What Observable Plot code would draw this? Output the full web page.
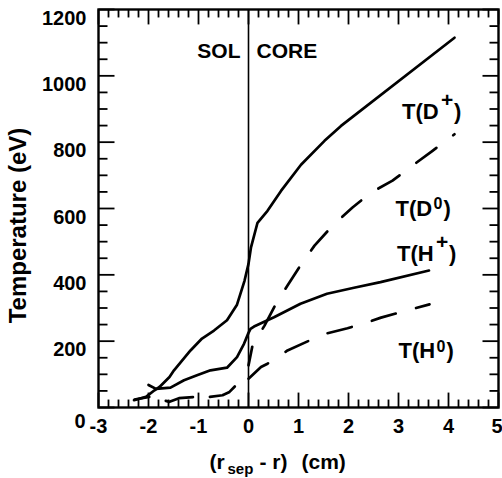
<!DOCTYPE html>
<html>
<head>
<meta charset="utf-8">
<script src="https://cdn.jsdelivr.net/npm/d3@7"></script>
<script src="https://cdn.jsdelivr.net/npm/@observablehq/plot@0.6"></script>
<style>
  html, body { margin: 0; padding: 0; background: white; }
</style>
</head>
<body>
<div id="chart"></div>
<script>
// ---- data ----
const dIonX = [-2.29, -2.05, -1.88, -1.78, -1.58, -1.49, -1.16, -0.93, -0.69, -0.43, -0.23, -0.08, 0, 0.05, 0.18, 0.38, 0.65, 1.05, 1.52, 1.85, 4.12];
const dIonT = [22, 32, 52, 62, 92, 112, 172, 208, 232, 263, 310, 382, 433, 483, 557, 593, 653, 732, 804, 849, 1115];

const hIonX = [-2.0, -1.85, -1.56, -1.29, -1.03, -0.76, -0.43, -0.23, -0.09, 0, 0.04, 0.11, 0.51, 1.04, 1.57, 2.11, 2.64, 3.61];
const hIonT = [68, 56, 60, 82, 97, 112, 120, 152, 192, 225, 237, 244, 272, 313, 343, 361, 378, 413];

const dNeutX = [0, 0.08, 0.32, 0.55, 0.78, 1.05, 1.32, 1.68, 2.08, 2.45, 2.88, 3.32, 3.68, 4.12];
const dNeutT = [127, 187, 247, 313, 368, 431, 488, 548, 603, 648, 684, 734, 774, 824];

const hNeutX = [0, 0.25, 0.38, 0.78, 1.22, 1.58, 1.98, 2.38, 2.65, 3.18, 3.62];
const hNeutT = [87, 122, 132, 172, 202, 224, 239, 257, 271, 293, 311];

const solNeutX = [-2.28, -1.98, -1.58, -1.39, -1.02, -0.78, -0.52, -0.38, -0.25];
const solNeutT = [24, 32, 17, 28, 32, 32, 37, 47, 67];

const xTickLabels = ["-3", "-2", "-1", "0", "1", "2", "3", "4", "5"];
const yTickLabels = ["0", "200", "400", "600", "800", "1000", "1200"];

const curveNames = ["T(D", "T(D", "T(H", "T(H"];
const curveSups = ["+", "0", "+", "0"];
const curveLabelX = [3.07, 2.94, 2.97, 3.0];
const curveLabelT = [870, 578, 443, 148];

const regionNames = ["SOL", "CORE"];

// ---- build tables ----
const toRows = (xs, ts) => xs.map((x, i) => ({x, t: ts[i]}));
const dIon = toRows(dIonX, dIonT);
const hIon = toRows(hIonX, hIonT);
const dNeut = toRows(dNeutX, dNeutT);
const hNeut = toRows(hNeutX, hNeutT);
const solNeut = toRows(solNeutX, solNeutT);

const xMajor = xTickLabels.map(Number);
const yMajor = yTickLabels.map(Number);
const xMinor = d3.range(-30, 51, 2).map(v => v / 10).filter(v => !xMajor.includes(v));
const yMinor = d3.range(0, 1201, 50).filter(v => !yMajor.includes(v));

const labels = curveNames.map((n, i) => ({name: n, sup: curveSups[i], x: curveLabelX[i], t: curveLabelT[i]}));
const labPlus = labels.filter(d => d.sup === "+");
const labZero = labels.filter(d => d.sup === "0");

const FONT = "'Liberation Sans', Arial, Helvetica, sans-serif";
const txt = {fontWeight: "bold", fill: "black"};
const tk = {stroke: "black", strokeWidth: 1.8};

// inward tick marks on all four sides (lengths in data units)
const xTick = (vals, len) => [
  Plot.link(vals, {x1: d => d, x2: d => d, y1: () => 0, y2: () => len, ...tk}),
  Plot.link(vals, {x1: d => d, x2: d => d, y1: () => 1200, y2: () => 1200 - len, ...tk})
];
const yTick = (vals, len) => [
  Plot.link(vals, {y1: d => d, y2: d => d, x1: () => -3, x2: () => -3 + len, ...tk}),
  Plot.link(vals, {y1: d => d, y2: d => d, x1: () => 5, x2: () => 5 - len, ...tk})
];

const chart = Plot.plot({
  width: 502,
  height: 478,
  marginLeft: 98,
  marginRight: 4,
  marginTop: 9,
  marginBottom: 71,
  x: {domain: [-3, 5], axis: null},
  y: {domain: [0, 1200], axis: null},
  style: {fontFamily: FONT, fontWeight: "bold", background: "white", color: "black"},
  marks: [
    ...xTick(xMinor, 24),
    ...xTick(xMajor, 45),
    ...yTick(yMinor, 0.18),
    ...yTick(yMajor, 0.32),

    // separatrix
    Plot.ruleX([0], {stroke: "black", strokeWidth: 1.6}),

    // curves
    Plot.line(dIon, {x: "x", y: "t", stroke: "black", strokeWidth: 2.7}),
    Plot.line(hIon, {x: "x", y: "t", stroke: "black", strokeWidth: 2.7}),
    Plot.line(dNeut, {x: "x", y: "t", stroke: "black", strokeWidth: 2.7, strokeDasharray: "25,21", strokeDashoffset: 6}),
    Plot.line(hNeut, {x: "x", y: "t", stroke: "black", strokeWidth: 2.7, strokeDasharray: "25,21"}),
    Plot.line(solNeut, {x: "x", y: "t", stroke: "black", strokeWidth: 2.7, strokeDasharray: "28,17", strokeDashoffset: 13}),

    // frame
    Plot.frame({stroke: "black", strokeWidth: 2.4}),

    // tick labels
    Plot.text(xTickLabels.filter(d => d !== "5"), {x: d => +d, text: d => d, frameAnchor: "bottom", lineAnchor: "bottom", dy: 25, fontSize: 20, ...txt}),
    Plot.text(xTickLabels.filter(d => d === "5"), {x: d => +d, text: d => d, frameAnchor: "bottom", textAnchor: "end", lineAnchor: "bottom", dx: 4, dy: 25, fontSize: 20, ...txt}),
    Plot.text(yTickLabels.filter(d => d !== "0"), {y: d => +d, text: d => d, frameAnchor: "left", textAnchor: "end", lineAnchor: "bottom", dx: -12, dy: 15, fontSize: 20, ...txt}),
    Plot.text(yTickLabels.filter(d => d === "0"), {y: d => +d, text: d => d, frameAnchor: "left", textAnchor: "end", lineAnchor: "bottom", dx: -13, dy: 20, fontSize: 20, ...txt}),

    // region labels
    Plot.text([regionNames[0]], {x: 0, text: d => d, frameAnchor: "top", textAnchor: "end", lineAnchor: "bottom", dx: -8, dy: 48, fontSize: 21, ...txt}),
    Plot.text([regionNames[1]], {x: 0, text: d => d, frameAnchor: "top", textAnchor: "start", lineAnchor: "bottom", dx: 8, dy: 48, fontSize: 21, ...txt}),

    // curve labels
    Plot.text(labels, {x: "x", y: "t", text: "name", textAnchor: "start", lineAnchor: "bottom", fontSize: 22, ...txt}),
    Plot.text(labPlus, {x: "x", y: "t", text: "sup", textAnchor: "start", lineAnchor: "bottom", dx: 39, dy: -12, fontSize: 21, ...txt}),
    Plot.text(labZero, {x: "x", y: "t", text: "sup", textAnchor: "start", lineAnchor: "bottom", dx: 38, dy: -6.5, fontSize: 16, ...txt}),
    Plot.text(labPlus, {x: "x", y: "t", text: () => ")", textAnchor: "start", lineAnchor: "bottom", dx: 52, fontSize: 22, ...txt}),
    Plot.text(labZero, {x: "x", y: "t", text: () => ")", textAnchor: "start", lineAnchor: "bottom", dx: 48, fontSize: 22, ...txt}),

    // axis titles
    Plot.text(["Temperature (eV)"], {text: d => d, frameAnchor: "left", rotate: -90, lineAnchor: "middle", textAnchor: "middle", dx: -80, dy: 17, fontSize: 24, ...txt}),
    Plot.text(["(r"], {text: d => d, frameAnchor: "bottom", textAnchor: "start", lineAnchor: "bottom", dx: -89, dy: 61, fontSize: 21, ...txt}),
    Plot.text(["sep"], {text: d => d, frameAnchor: "bottom", textAnchor: "start", lineAnchor: "bottom", dx: -71, dy: 66, fontSize: 15, ...txt}),
    Plot.text(["- r)"], {text: d => d, frameAnchor: "bottom", textAnchor: "start", lineAnchor: "bottom", dx: -39, dy: 61, fontSize: 21, ...txt}),
    Plot.text(["(cm)"], {text: d => d, frameAnchor: "bottom", textAnchor: "start", lineAnchor: "bottom", dx: 3, dy: 61, fontSize: 21, ...txt})
  ]
});

document.getElementById("chart").appendChild(chart);
</script>
</body>
</html>
